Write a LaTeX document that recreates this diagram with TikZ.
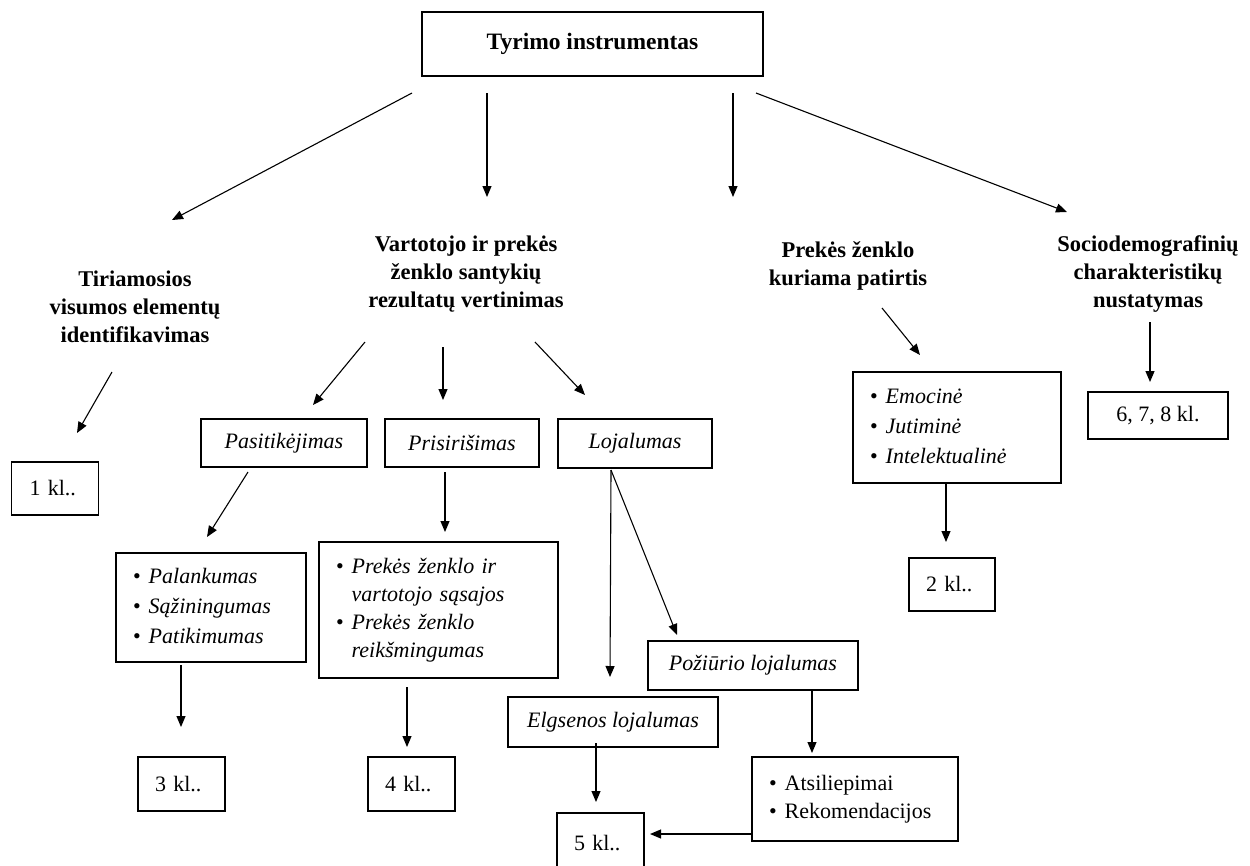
\documentclass[tikz,border=0pt]{standalone}
\usepackage{fontspec}
\setmainfont{Liberation Serif}
\usetikzlibrary{arrows.meta}

\begin{document}
\begin{tikzpicture}[x=1pt,y=-1pt,
  every node/.style={font=\fontsize{22}{28}\selectfont},
  frame/.style={draw, line width=1.2pt, inner sep=0pt, align=center},
  listbox/.style={frame, align=left, inner xsep=17pt},
  numbox/.style={frame, align=left, inner xsep=17pt},
  heading/.style={align=center, font=\fontsize{22.5}{28}\selectfont\bfseries},
  arr/.style={line width=1.1pt, -{Triangle[length=11pt,width=9pt]}}
]
\useasboundingbox (0,0) rectangle (1250,865);

% ---- top level ----
\node[frame, font=\fontsize{23.5}{28}\selectfont\bfseries,
      minimum width=341pt, minimum height=64pt] (top) at (592.5,44) {Tyrimo instrumentas};

% ---- second level headings ----
\node[heading] (tir) at (135,307) {Tiriamosios\\visumos elementų\\identifikavimas};
\node[heading] (var) at (466,274) {Vartotojo ir prekės\\ženklo santykių\\rezultatų vertinimas};
\node[heading] (pat) at (848,266) {Prekės ženklo\\kuriama patirtis};
\node[heading] (soc) at (1148,274) {Sociodemografinių\\charakteristikų\\nustatymas};

% ---- left branch ----
\node[numbox, minimum width=86pt, minimum height=53pt, text width=51pt, inner xsep=18pt] (k1) at (55,488.5) {1 kl..};

% ---- consumer / brand relation branch ----
\node[frame, minimum width=166pt, minimum height=48pt] (pas) at (284,443) {\itshape Pasitikėjimas};
\node[frame, minimum width=154pt, minimum height=48pt] (pri) at (462,443) {\itshape Prisirišimas};
\node[frame, minimum width=154pt, minimum height=49pt] (loj) at (635,443.5) {\itshape Lojalumas};

\node[listbox, minimum width=190pt, minimum height=109pt, text width=156pt,
      font=\fontsize{22}{30}\selectfont] (pal) at (211,607.5)
  {\begin{tabular}{@{}l@{\hspace{8pt}}l@{}}
   • & \itshape Palankumas\\
   • & \itshape Sąžiningumas\\
   • & \itshape Patikimumas
   \end{tabular}};

\node[listbox, minimum width=239pt, minimum height=136pt, text width=205pt] (prk) at (438.5,610)
  {\begin{tabular}{@{}l@{\hspace{8pt}}l@{}}
   • & \itshape Prekės ženklo ir\\
     & \itshape vartotojo sąsajos\\
   • & \itshape Prekės ženklo\\
     & \itshape reikšmingumas
   \end{tabular}};

\node[numbox, minimum width=87pt, minimum height=54pt, text width=53pt] (k3) at (181.5,784) {3 kl..};
\node[numbox, minimum width=87pt, minimum height=54pt, text width=53pt] (k4) at (411.5,784) {4 kl..};

\node[frame, minimum width=210pt, minimum height=49pt] (poz) at (753,665.5) {\itshape Požiūrio lojalumas};
\node[frame, minimum width=210pt, minimum height=50pt] (elg) at (613,722) {\itshape Elgsenos lojalumas};

\node[numbox, minimum width=87pt, minimum height=60pt, text width=53pt] (k5) at (600.5,843) {5 kl..};

\node[listbox, minimum width=206pt, minimum height=84pt, text width=172pt] (ats) at (855,799)
  {\begin{tabular}{@{}l@{\hspace{8pt}}l@{}}
   • & Atsiliepimai\\
   • & Rekomendacijos
   \end{tabular}};

% ---- brand experience branch ----
\node[listbox, minimum width=208pt, minimum height=111pt, text width=174pt,
      font=\fontsize{22}{30}\selectfont] (emo) at (957,427.5)
  {\begin{tabular}{@{}l@{\hspace{8pt}}l@{}}
   • & \itshape Emocinė\\
   • & \itshape Jutiminė\\
   • & \itshape Intelektualinė
   \end{tabular}};
\node[numbox, minimum width=86pt, minimum height=53pt, text width=52pt] (k2) at (952,584.5) {2 kl..};

% ---- socio-demographic branch ----
\node[frame, minimum width=140pt, minimum height=47pt] (k678) at (1158,415.5) {6, 7, 8 kl.};

% ---- arrow end points ----
\coordinate (s1) at (412,93);   \coordinate (e1) at (172,220);
\coordinate (s2) at (487,93);   \coordinate (e2) at (487,197);
\coordinate (s3) at (733,93);   \coordinate (e3) at (733,197);
\coordinate (s4) at (756,93);   \coordinate (e4) at (1067,212);
\coordinate (s5) at (112,372);  \coordinate (e5) at (77,433);
\coordinate (s6) at (365,342);  \coordinate (e6) at (313,405);
\coordinate (s7) at (443,347);  \coordinate (e7) at (443,400);
\coordinate (s8) at (535,342);  \coordinate (e8) at (585,395);
\coordinate (s9) at (248,472);  \coordinate (e9) at (207,537);
\coordinate (s10) at (445,472); \coordinate (e10) at (445,532);
\coordinate (s11) at (181,665); \coordinate (e11) at (181,727);
\coordinate (s12) at (407,687); \coordinate (e12) at (407,747);
\coordinate (s13) at (611,470); \coordinate (e13) at (610,677);
\coordinate (e14) at (677,635);
\coordinate (s15) at (596,743); \coordinate (e15) at (596,802);
\coordinate (s16) at (812,690); \coordinate (e16) at (812,753);
\coordinate (s17) at (752,834); \coordinate (e17) at (650,834);
\coordinate (s18) at (882,308); \coordinate (e18) at (920,355);
\coordinate (s19) at (946,483); \coordinate (e19) at (946,542);
\coordinate (s20) at (1150,322);\coordinate (e20) at (1150,382);

% ---- connectors ----
\draw[arr] (s1) -- (e1);
\draw[arr] (s2) -- (e2);
\draw[arr] (s3) -- (e3);
\draw[arr] (s4) -- (e4);
\draw[arr] (s5) -- (e5);
\draw[arr] (s6) -- (e6);
\draw[arr] (s7) -- (e7);
\draw[arr] (s8) -- (e8);
\draw[arr] (s9) -- (e9);
\draw[arr] (s10) -- (e10);
\draw[arr] (s11) -- (e11);
\draw[arr] (s12) -- (e12);
\draw[arr] (s13) -- (e13);
\draw[arr] (s13) -- (e14);
\draw[arr] (s15) -- (e15);
\draw[arr] (s16) -- (e16);
\draw[arr] (s17) -- (e17);
\draw[arr] (s18) -- (e18);
\draw[arr] (s19) -- (e19);
\draw[arr] (s20) -- (e20);
\end{tikzpicture}
\end{document}
